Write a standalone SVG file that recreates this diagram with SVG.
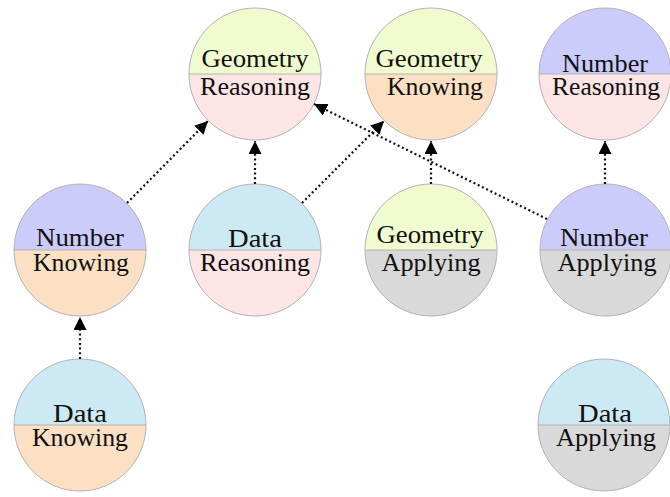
<svg xmlns="http://www.w3.org/2000/svg" width="670" height="497" viewBox="0 0 670 497">
<style>
.t{font-family:"Liberation Serif","Times New Roman",serif;font-size:25px;fill:#111;text-anchor:middle}
.o{fill:none;stroke:#b3b3b3;stroke-width:1}
.geo{fill:#f0fcd0}.num{fill:#ccccfc}.dat{fill:#cde9f3}
.rea{fill:#fde5e5}.kno{fill:#fde0c3}.app{fill:#d9d9d9}
.e{fill:none;stroke:#111;stroke-width:2.2;stroke-dasharray:2 2.7;marker-end:url(#ah)}
</style>
<defs>
<marker id="ah" markerUnits="userSpaceOnUse" markerWidth="14" markerHeight="14" refX="13" refY="6.5" orient="auto" viewBox="0 0 14 14">
<path d="M0,0 L13,6.5 L0,13 Z" fill="#000"/>
</marker>
<path id="top" d="M-66,0 A66,66 0 0 1 66,0 Z"/>
<path id="bot" d="M-66,0 A66,66 0 0 0 66,0 Z"/>
<g id="ring"><circle r="66" class="o"/><line x1="-66" y1="0" x2="66" y2="0" class="o"/></g>
</defs>
<g id="geometry-reasoning" transform="translate(255,74)">
<use href="#top" class="geo"/><use href="#bot" class="rea"/><use href="#ring"/>
<text class="t" x="0" y="-7" textLength="107" lengthAdjust="spacingAndGlyphs">Geometry</text>
<text class="t" x="0" y="21" textLength="110" lengthAdjust="spacingAndGlyphs">Reasoning</text>
</g>
<g id="geometry-knowing" transform="translate(431,74)">
<use href="#top" class="geo"/><use href="#bot" class="kno"/><use href="#ring"/>
<text class="t" x="-2" y="-7" textLength="107" lengthAdjust="spacingAndGlyphs">Geometry</text>
<text class="t" x="4" y="21" textLength="96" lengthAdjust="spacingAndGlyphs">Knowing</text>
</g>
<g id="number-reasoning" transform="translate(605,74)">
<use href="#top" class="num"/><use href="#bot" class="rea"/><use href="#ring"/>
<text class="t" x="0" y="-2" textLength="86" lengthAdjust="spacingAndGlyphs">Number</text>
<text class="t" x="1" y="21" textLength="108" lengthAdjust="spacingAndGlyphs">Reasoning</text>
</g>
<g id="number-knowing" transform="translate(80,250)">
<use href="#top" class="num"/><use href="#bot" class="kno"/><use href="#ring"/>
<text class="t" x="0" y="-4" textLength="88" lengthAdjust="spacingAndGlyphs">Number</text>
<text class="t" x="1" y="21" textLength="96" lengthAdjust="spacingAndGlyphs">Knowing</text>
</g>
<g id="data-reasoning" transform="translate(255,250)">
<use href="#top" class="dat"/><use href="#bot" class="rea"/><use href="#ring"/>
<text class="t" x="0" y="-3" textLength="54" lengthAdjust="spacingAndGlyphs">Data</text>
<text class="t" x="0" y="21" textLength="110" lengthAdjust="spacingAndGlyphs">Reasoning</text>
</g>
<g id="geometry-applying" transform="translate(431,250)">
<use href="#top" class="geo"/><use href="#bot" class="app"/><use href="#ring"/>
<text class="t" x="-1" y="-7" textLength="107" lengthAdjust="spacingAndGlyphs">Geometry</text>
<text class="t" x="0" y="21" textLength="99" lengthAdjust="spacingAndGlyphs">Applying</text>
</g>
<g id="number-applying" transform="translate(606,250)">
<use href="#top" class="num"/><use href="#bot" class="app"/><use href="#ring"/>
<text class="t" x="-2" y="-4" textLength="88" lengthAdjust="spacingAndGlyphs">Number</text>
<text class="t" x="1" y="21" textLength="99" lengthAdjust="spacingAndGlyphs">Applying</text>
</g>
<g id="data-knowing" transform="translate(80,425)">
<use href="#top" class="dat"/><use href="#bot" class="kno"/><use href="#ring"/>
<text class="t" x="0" y="-3" textLength="54" lengthAdjust="spacingAndGlyphs">Data</text>
<text class="t" x="0" y="21" textLength="96" lengthAdjust="spacingAndGlyphs">Knowing</text>
</g>
<g id="data-applying" transform="translate(604,425)">
<use href="#top" class="dat"/><use href="#bot" class="app"/><use href="#ring"/>
<text class="t" x="1" y="-3" textLength="54" lengthAdjust="spacingAndGlyphs">Data</text>
<text class="t" x="2" y="21" textLength="100" lengthAdjust="spacingAndGlyphs">Applying</text>
</g>
<g id="connectors">
<line class="e" x1="127" y1="203" x2="208" y2="121"/>
<line class="e" x1="255" y1="184" x2="255" y2="141"/>
<line class="e" x1="302" y1="203" x2="384" y2="121"/>
<line class="e" x1="547" y1="219" x2="314" y2="104"/>
<line class="e" x1="431" y1="184" x2="431" y2="141"/>
<line class="e" x1="605" y1="184" x2="605" y2="141"/>
<line class="e" x1="80" y1="359" x2="80" y2="317"/>
</g>
</svg>
